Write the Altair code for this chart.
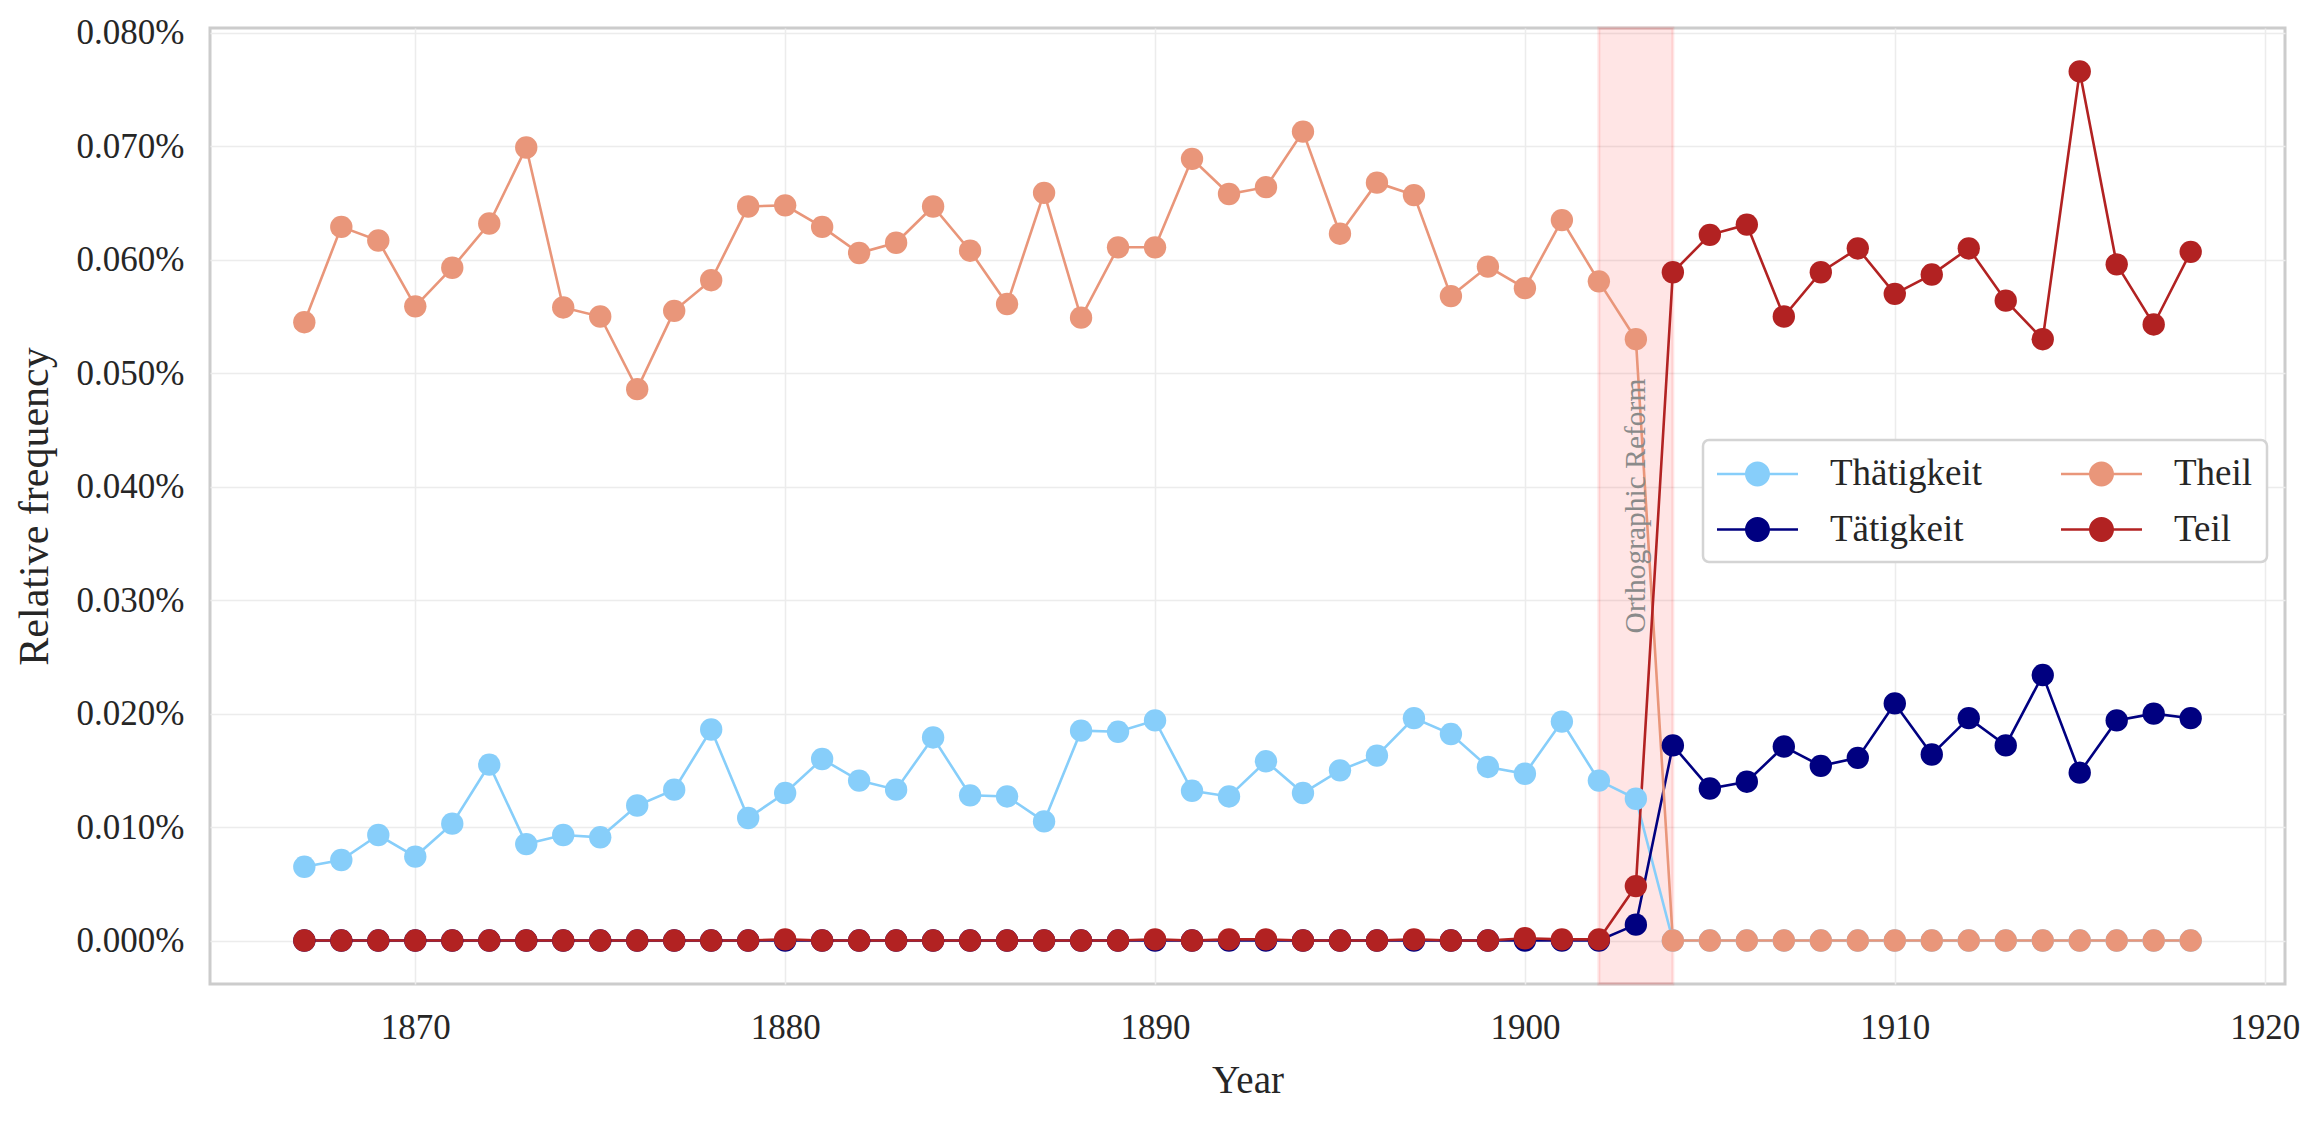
import altair as alt
import pandas as pd

# Relative frequency (in percent) of old and reformed spellings, per year
years = list(range(1867, 1919))

thaetigkeit = [
    0.0065, 0.0071, 0.0093, 0.0074, 0.0103, 0.0155, 0.0085, 0.0093, 0.0091, 0.0119,  # 1867-1876
    0.0133, 0.0186, 0.0108, 0.0130, 0.0160, 0.0141, 0.0133, 0.0179, 0.0128, 0.0127,  # 1877-1886
    0.0105, 0.0185, 0.0184, 0.0194, 0.0132, 0.0127, 0.0158, 0.0130, 0.0150, 0.0163,  # 1887-1896
    0.0196, 0.0182, 0.0153, 0.0147, 0.0193, 0.0141, 0.0125, 0.0, 0.0, 0.0,           # 1897-1906
    0.0, 0.0, 0.0, 0.0, 0.0, 0.0, 0.0, 0.0, 0.0, 0.0,                                 # 1907-1916
    0.0, 0.0,                                                                         # 1917-1918
]
taetigkeit = [
    0.0, 0.0, 0.0, 0.0, 0.0, 0.0, 0.0, 0.0, 0.0, 0.0,
    0.0, 0.0, 0.0, 0.0, 0.0, 0.0, 0.0, 0.0, 0.0, 0.0,
    0.0, 0.0, 0.0, 0.0, 0.0, 0.0, 0.0, 0.0, 0.0, 0.0,
    0.0, 0.0, 0.0, 0.0, 0.0, 0.0, 0.0014, 0.0172, 0.0134, 0.0140,
    0.0171, 0.0154, 0.0161, 0.0209, 0.0164, 0.0196, 0.0172, 0.0234, 0.0148, 0.0194,
    0.0200, 0.0196,
]
theil = [
    0.0545, 0.0629, 0.0617, 0.0559, 0.0593, 0.0632, 0.0699, 0.0558, 0.0550, 0.0486,
    0.0555, 0.0582, 0.0647, 0.0648, 0.0629, 0.0606, 0.0615, 0.0647, 0.0608, 0.0561,
    0.0659, 0.0549, 0.0611, 0.0611, 0.0689, 0.0658, 0.0664, 0.0713, 0.0623, 0.0668,
    0.0657, 0.0568, 0.0594, 0.0575, 0.0635, 0.0581, 0.0530, 0.0, 0.0, 0.0,
    0.0, 0.0, 0.0, 0.0, 0.0, 0.0, 0.0, 0.0, 0.0, 0.0,
    0.0, 0.0,
]
teil = [
    0.0, 0.0, 0.0, 0.0, 0.0, 0.0, 0.0, 0.0, 0.0, 0.0,
    0.0, 0.0, 0.0, 0.0001, 0.0, 0.0, 0.0, 0.0, 0.0, 0.0,
    0.0, 0.0, 0.0, 0.0001, 0.0, 0.0001, 0.0001, 0.0, 0.0, 0.0,
    0.0001, 0.0, 0.0, 0.0002, 0.0001, 0.0001, 0.0048, 0.0589, 0.0622, 0.0631,
    0.0550, 0.0589, 0.0610, 0.0570, 0.0587, 0.0610, 0.0564, 0.0530, 0.0766, 0.0596,
    0.0543, 0.0607,
]

series_names = ["Thätigkeit", "Tätigkeit", "Theil", "Teil"]
series_colors = ["#87CEFA", "#000080", "#E9967A", "#B22222"]

x_ticks = [1870, 1880, 1890, 1900, 1910, 1920]
y_ticks = [0.0, 0.01, 0.02, 0.03, 0.04, 0.05, 0.06, 0.07, 0.08]

reform_start, reform_end = 1902, 1904
reform_label = "Orthographic Reform"

FONT = "Liberation Serif"
INK = "#262626"

# long table, drawn in series order so later series sit on top
rows = []
for name, vals in zip(series_names, [thaetigkeit, taetigkeit, theil, teil]):
    for yr, v in zip(years, vals):
        rows.append({"Year": yr, "freq": v, "series": name})
df = pd.DataFrame(rows)

# 5% margins around the data, like the usual auto-scaled axes
x_pad = 0.05 * (max(years) - min(years))
x_dom = [min(years) - x_pad, max(years) + x_pad]
y_max = df["freq"].max()
y_pad = 0.05 * y_max
y_dom = [0 - y_pad, y_max + y_pad]

x_enc = alt.X(
    "Year:Q",
    scale=alt.Scale(domain=x_dom, nice=False, zero=False),
    axis=alt.Axis(
        values=x_ticks, format="d", title="Year",
        grid=True, gridColor="#ececec", gridWidth=1.5,
        ticks=False, domain=False, labelFlush=False, labelOverlap=False,
        labelFont=FONT, labelFontSize=35, labelColor=INK, labelPadding=26,
        titleFont=FONT, titleFontSize=39, titleColor=INK, titleFontWeight="normal",
        titleBaseline="alphabetic", titleY=108,
    ),
)
y_enc = alt.Y(
    "freq:Q",
    scale=alt.Scale(domain=y_dom, nice=False, zero=False),
    axis=alt.Axis(
        values=y_ticks, labelExpr="format(datum.value, '.3f') + '%'",
        title="Relative frequency",
        grid=True, gridColor="#ececec", gridWidth=1.5,
        ticks=False, domain=False, labelFlush=False, labelOverlap=False,
        labelFont=FONT, labelFontSize=35, labelColor=INK, labelPadding=26,
        titleFont=FONT, titleFontSize=42, titleColor=INK, titleFontWeight="normal",
        titleAngle=270, titleAlign="center", titleBaseline="alphabetic",
        titleX=-163, titleY=478,
    ),
)

# legend glyph: short line with a dot in the middle (unit = half the symbol box)
legend_symbol = (
    "M-2.025,-0.0625 L2.025,-0.0625 L2.025,0.0625 L-2.025,0.0625 Z "
    "M0.625,0 A0.625,0.625 0 1,1 -0.625,0 A0.625,0.625 0 1,1 0.625,0 Z"
)

color_scale = alt.Scale(domain=series_names, range=series_colors)

span_df = pd.DataFrame({"Year": [reform_start], "Year_end": [reform_end]})
span = alt.Chart(span_df).mark_rect(
    fill="red", fillOpacity=0.1, stroke="red", strokeOpacity=0.1, strokeWidth=3
).encode(x=x_enc, x2=alt.X2("Year_end"))

# one connecting line per series, in plain colours (the dots carry the legend)
line_layers = [
    alt.Chart(df)
    .transform_filter(alt.datum.series == name)
    .mark_line(strokeWidth=2.6, color=col)
    .encode(x=x_enc, y=y_enc)
    for name, col in zip(series_names, series_colors)
]

points = alt.Chart(df).mark_circle(size=500, opacity=1).encode(
    x=x_enc, y=y_enc,
    color=alt.Color(
        "series:N", scale=color_scale,
        legend=alt.Legend(
            title=None, orient="none", legendX=1493, legendY=412, columns=2,
            symbolType=legend_symbol, symbolSize=1600, symbolStrokeWidth=0,
            symbolOpacity=1, symbolOffset=20.5,
            labelFont=FONT, labelFontSize=37, labelColor=INK, labelOffset=52.5,
            labelLimit=500, rowPadding=17.5, columnPadding=78, padding=14,
            fillColor="white", strokeColor="#d4d4d4", cornerRadius=6,
        ),
    ),
)

label_df = pd.DataFrame({
    "Year": [(reform_start + reform_end) / 2],
    "freq": [y_max / 2],
    "label": [reform_label],
})
label = alt.Chart(label_df).mark_text(
    angle=270, align="center", baseline="middle",
    font=FONT, fontSize=29.5, color="#8a8a8a",
).encode(x=x_enc, y=y_enc, text="label:N")

chart = (
    alt.layer(span, *line_layers, points, label)
    .properties(
        width=2075, height=956,
        autosize=alt.AutoSizeParams(type="none"),
        padding={"left": 210, "top": 28, "right": 37, "bottom": 140},
        background="white",
    )
    .configure_view(stroke="#cccccc", strokeWidth=3)
    .configure_legend(strokeWidth=2.5)
)

chart.save("out.html", embed_options={"renderer": "svg", "actions": False})
